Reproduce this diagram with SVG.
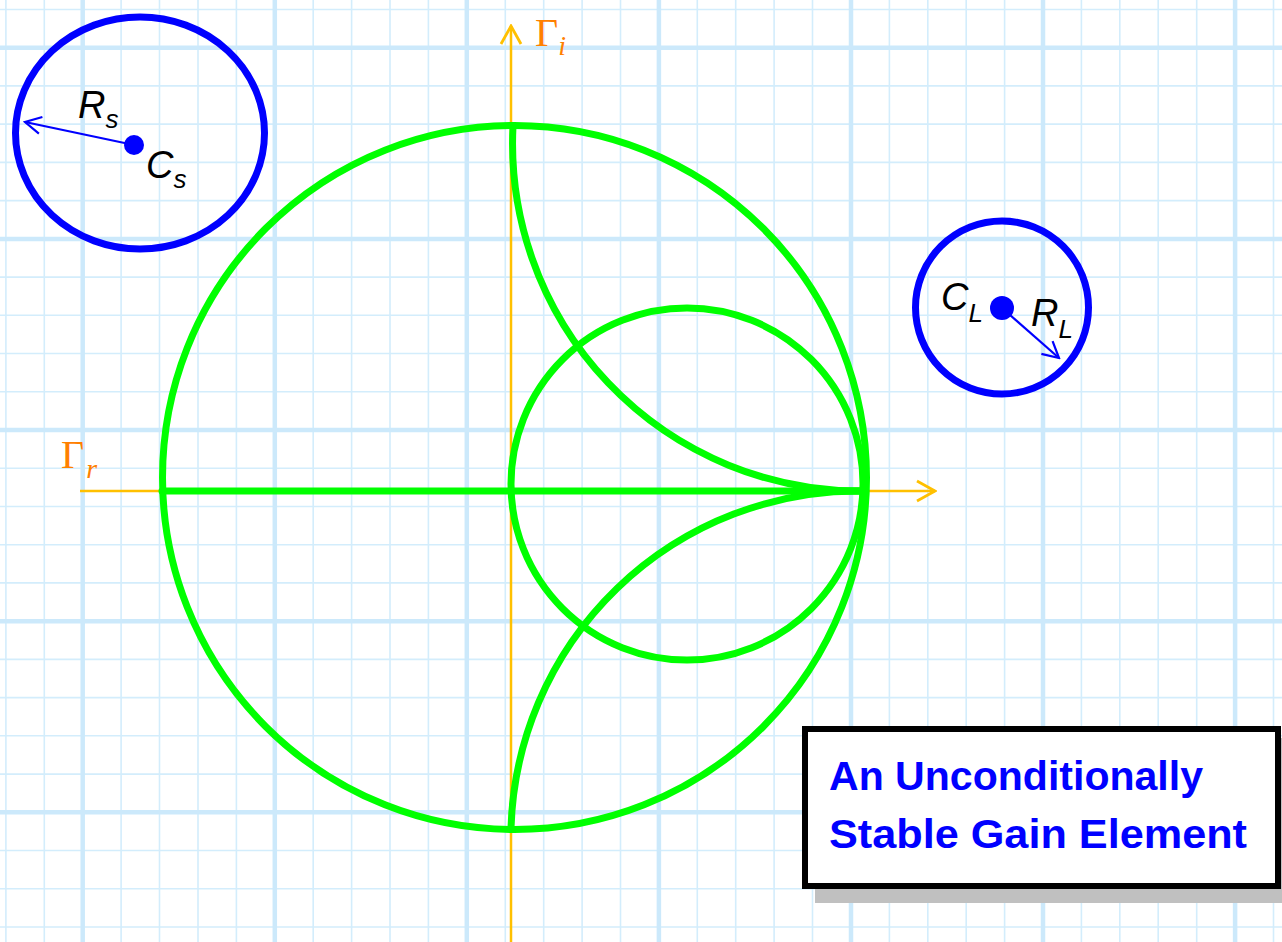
<svg xmlns="http://www.w3.org/2000/svg" width="1282" height="942" viewBox="0 0 1282 942">
<defs>
<style>
.thin{stroke:#D3EDFC;stroke-width:1.6;fill:none}
.thick{stroke:#CCE9FB;stroke-width:4.5;fill:none}
.axis{stroke:#FFC000;stroke-width:2.5;fill:none}
.green{stroke:#00FF00;stroke-width:7;fill:none;stroke-linecap:round}
.bluec{stroke:#0000FF;stroke-width:7;fill:none}
.ray{stroke:#0000FF;stroke-width:2.2;fill:none}
.gam{font-family:"Liberation Serif",serif;fill:#FF8000}
.hand{font-family:"Liberation Sans",sans-serif;font-style:italic;fill:#000}
.title{font-family:"Liberation Sans",sans-serif;font-weight:bold;fill:#0000FF;font-size:40px}
</style>
<marker id="chevA" viewBox="-20 -12 22 24" markerWidth="22" markerHeight="24" refX="0" refY="0" orient="auto" markerUnits="userSpaceOnUse">
<path d="M-18,-10 L0,0 L-18,10" fill="none" stroke="#FFC000" stroke-width="2.8"/>
</marker>
<marker id="chevB" viewBox="-18 -10 20 20" markerWidth="20" markerHeight="20" refX="0" refY="0" orient="auto" markerUnits="userSpaceOnUse">
<path d="M-16,-8.5 L0,0 L-16,8.5" fill="none" stroke="#0000FF" stroke-width="2.2"/>
</marker>
</defs>
<rect width="1282" height="942" fill="#FFFFFF"/>
<g id="grid">
<path class="thin" d="M5.9,0V942M44.3,0V942M121.1,0V942M159.5,0V942M198,0V942M236.4,0V942M313.2,0V942M351.6,0V942M390,0V942M428.4,0V942M505.3,0V942M543.7,0V942M582.1,0V942M620.5,0V942M697.3,0V942M735.7,0V942M774.1,0V942M812.5,0V942M889.4,0V942M927.8,0V942M966.2,0V942M1004.6,0V942M1081.4,0V942M1119.8,0V942M1158.2,0V942M1196.7,0V942M1273.5,0V942
M0,9.5H1282M0,85.9H1282M0,124.1H1282M0,162.4H1282M0,200.6H1282M0,277.1H1282M0,315.3H1282M0,353.5H1282M0,391.8H1282M0,468.2H1282M0,506.5H1282M0,544.7H1282M0,582.9H1282M0,659.4H1282M0,697.6H1282M0,735.8H1282M0,774.1H1282M0,850.5H1282M0,888.8H1282M0,927H1282"/>
<path class="thick" d="M82.7,0V942M274.8,0V942M466.8,0V942M658.9,0V942M851,0V942M1043,0V942M1235.1,0V942M0,47.7H1282M0,238.9H1282M0,430H1282M0,621.2H1282M0,812.3H1282"/>
</g>
<g id="axes">
<path class="axis" d="M511,942V26" marker-end="url(#chevA)"/>
<path class="axis" d="M80,491H935" marker-end="url(#chevA)"/>
<text class="gam" x="535" y="46" font-size="40">Γ<tspan font-style="italic" font-size="28" dy="9">i</tspan></text>
<text class="gam" x="61" y="468" font-size="40">Γ<tspan font-style="italic" font-size="28" dy="10" dx="2">r</tspan></text>
</g>
<g id="smith-chart">
<circle class="green" cx="514.5" cy="477.5" r="352"/>
<path class="green" d="M162,491H860"/>
<circle class="green" cx="687" cy="484" r="176"/>
<path class="green" d="M513,126A347.5 347.5 0 0 0 860,491"/>
<path class="green" d="M511,828A347.5 347.5 0 0 1 860,491"/>
</g>
<g id="source-circle">
<ellipse class="bluec" cx="140" cy="133" rx="124.5" ry="116"/>
<path class="ray" d="M134,145L25,122" marker-end="url(#chevB)"/>
<circle cx="134" cy="145" r="10" fill="#0000FF"/>
<text class="hand" x="78" y="118" font-size="38">R<tspan font-size="26" dy="10">s</tspan></text>
<text class="hand" x="146" y="178" font-size="38">C<tspan font-size="26" dy="10">s</tspan></text>
</g>
<g id="load-circle">
<circle class="bluec" cx="1002" cy="307.5" r="86.5"/>
<path class="ray" d="M1002,308L1059,358" marker-end="url(#chevB)"/>
<circle cx="1002" cy="308" r="12" fill="#0000FF"/>
<text class="hand" x="941" y="310" font-size="38">C<tspan font-size="26" dy="12">L</tspan></text>
<text class="hand" x="1031" y="326" font-size="38">R<tspan font-size="26" dy="12">L</tspan></text>
</g>
<g id="caption">
<rect x="815" y="738" width="470" height="165" fill="#C0C0C0"/>
<rect x="805" y="729" width="473" height="157" fill="#FFFFFF" stroke="#000000" stroke-width="6"/>
<text class="title" x="829" y="790" textLength="374" lengthAdjust="spacingAndGlyphs">An Unconditionally</text>
<text class="title" x="829" y="848" textLength="418" lengthAdjust="spacingAndGlyphs">Stable Gain Element</text>
</g>
</svg>
